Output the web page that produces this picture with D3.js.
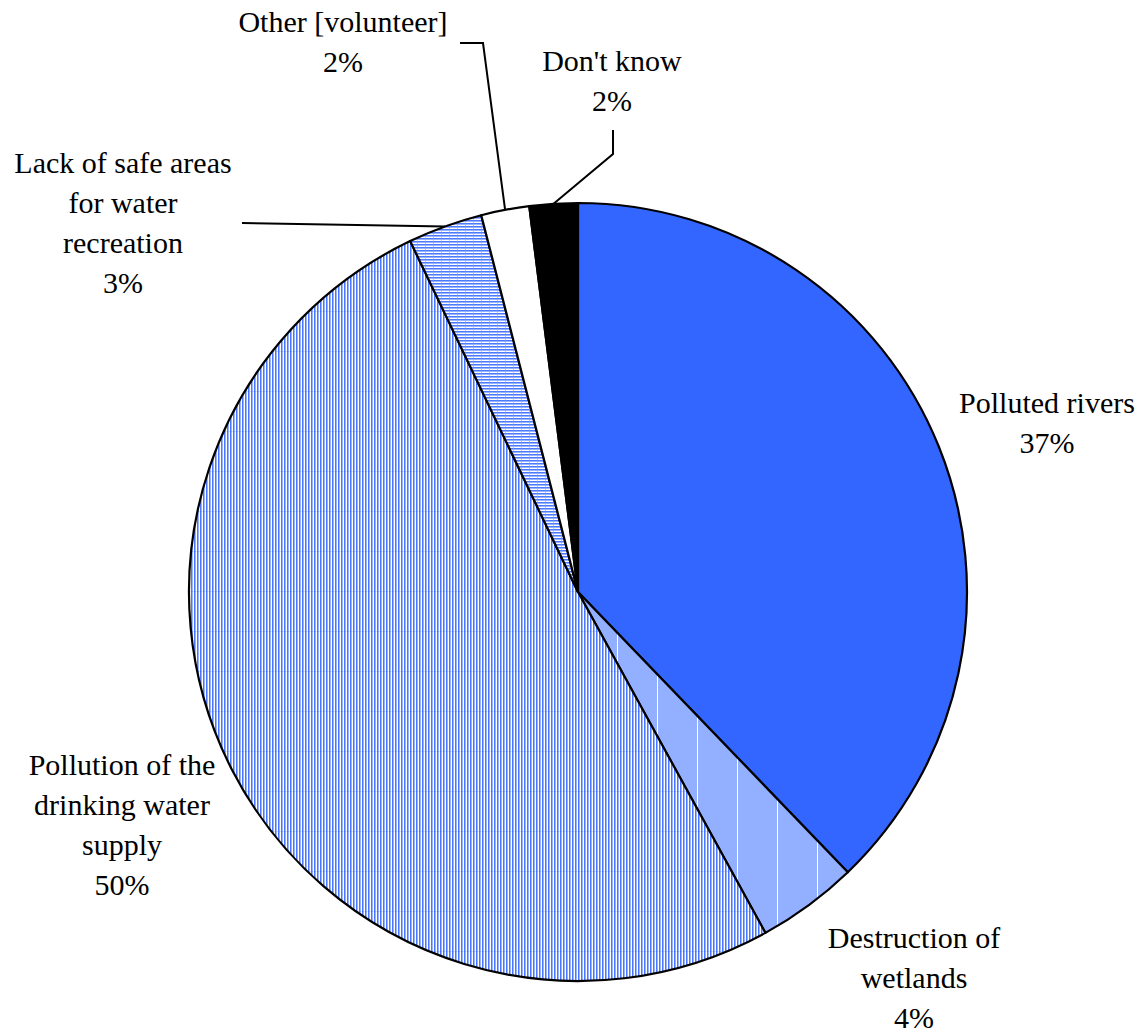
<!DOCTYPE html>
<html><head><meta charset="utf-8">
<script src="https://cdn.jsdelivr.net/npm/d3@7/dist/d3.min.js"></script>
</head><body>
<script>
const categories = ["Polluted rivers","Destruction of wetlands","Pollution of the drinking water supply","Lack of safe areas for water recreation","Other [volunteer]","Don't know"];
const values = [37.8, 4.2, 50.9, 3.1, 2.0, 2.0];
const pctLabels = ["37%","4%","50%","3%","2%","2%"];
const labelLines = [["Polluted rivers"],["Destruction of","wetlands"],["Pollution of the","drinking water","supply"],["Lack of safe areas","for water","recreation"],["Other [volunteer]"],["Don't know"]];

const W=1144,H=1036, cx=578, cy=592, R=389;
d3.select("body").style("margin","0px");
const svg=d3.select("body").append("svg").attr("width",W).attr("height",H).style("display","block");
const defs=svg.append("defs");

// drinking water: vertical stripes
const p1=defs.append("pattern").attr("id","pVert").attr("patternUnits","userSpaceOnUse").attr("width",3).attr("height",40);
p1.append("rect").attr("width",3).attr("height",40).attr("fill","#fff");
p1.append("rect").attr("x",0).attr("width",1).attr("height",40).attr("fill","#4a76ff");
p1.append("rect").attr("x",1).attr("width",1).attr("height",40).attr("fill","#99b3ff");
p1.append("rect").attr("x",0).attr("y",39).attr("width",3).attr("height",1).attr("fill","#3366ff").attr("opacity",0.2);

// wetlands: dither + white vertical lines
const p2=defs.append("pattern").attr("id","pDither").attr("patternUnits","userSpaceOnUse").attr("width",40).attr("height",40);
p2.append("rect").attr("width",40).attr("height",40).attr("fill","#93afff");
p2.append("rect").attr("x",39).attr("width",1.2).attr("height",40).attr("fill","#fff");

// lack: horizontal stripes
const p3=defs.append("pattern").attr("id","pHoriz").attr("patternUnits","userSpaceOnUse").attr("width",8).attr("height",3);
p3.append("rect").attr("width",8).attr("height",3).attr("fill","#fff");
p3.append("rect").attr("y",0).attr("width",8).attr("height",1).attr("fill","#4a78ff");
p3.append("rect").attr("y",1).attr("width",8).attr("height",1).attr("fill","#9ab4ff");
p3.append("rect").attr("x",7).attr("width",1).attr("height",3).attr("fill","#7d9cff").attr("opacity",0.5);

const fills=["#3366ff","url(#pDither)","url(#pVert)","url(#pHoriz)","#ffffff","#000000"];

const pie=d3.pie().sort(null).value(d=>d);
const arcs=pie(values);
const arc=d3.arc().innerRadius(0).outerRadius(R);
const g=svg.append("g").attr("transform",`translate(${cx},${cy})`);
g.selectAll("path").data(arcs).join("path")
  .attr("d",arc).attr("fill",(d,i)=>fills[i])
  .attr("stroke","#000").attr("stroke-width",2.2).attr("stroke-linejoin","round");

// leader lines
const edge=d=>{const a=(d.startAngle+d.endAngle)/2;return [cx+R*Math.sin(a), cy-R*Math.cos(a)];};
const leaders={3:[[242,223]],4:[[483,43],[460,43]],5:[[613,154],[613,130]]};
Object.entries(leaders).forEach(([i,pts])=>{
  const s=edge(arcs[+i]);
  svg.append("path").attr("d",d3.line()([s,...pts])).attr("fill","none").attr("stroke","#000").attr("stroke-width",2);
});

// labels
const labelPos=[[1047,413],[914,948],[122,775],[123,173],[343,32],[612,71]];
labelLines.forEach((lines,i)=>{
  [...lines,pctLabels[i]].forEach((s,k)=>{
    svg.append("text").attr("x",labelPos[i][0]).attr("y",labelPos[i][1]+k*40)
      .attr("text-anchor","middle").attr("font-family","Liberation Serif").attr("font-size",30)
      .style("font-family","'Liberation Serif', serif","important")
      .attr("fill","#000").text(s);
  });
});
</script>
</body></html>
